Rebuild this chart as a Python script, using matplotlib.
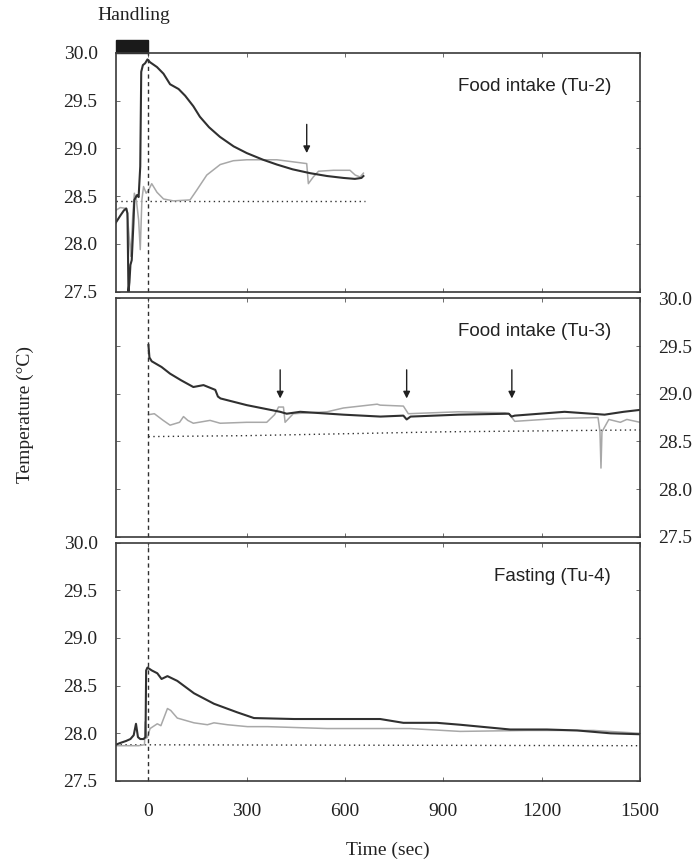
import numpy as np
import matplotlib.pyplot as plt
from matplotlib.patches import Rectangle
from matplotlib.ticker import FormatStrFormatter

# --- Tu-2, food intake ---
tu2_t_dark = [-100, -85, -75, -68, -64, -61, -58, -55, -51, -46, -43, -35, -30, -25, -22, -17, -10, -3, 5, 26, 46, 66,
              92, 112, 137, 157, 185, 218, 260, 300, 350, 392, 440, 493, 545, 595, 630, 650, 656]
tu2_v_dark = [28.22, 28.30, 28.35, 28.37, 28.32, 27.50, 27.60, 27.78, 27.83, 28.20, 28.46, 28.51, 28.49, 28.81, 29.80,
              29.87, 29.89, 29.93, 29.90, 29.85, 29.78, 29.67, 29.62, 29.55, 29.44, 29.33, 29.22, 29.12, 29.02, 28.95,
              28.88, 28.83, 28.78, 28.74, 28.71, 28.69, 28.68, 28.69, 28.71]
tu2_t_gray = [-100, -86, -66, -58, -54, -48, -43, -37, -30, -25, -20, -15, -7, 0, 10, 26, 46, 76, 127, 147, 178, 219,
              259, 300, 392, 483, 488, 503, 519, 565, 615, 631, 646, 656]
tu2_v_gray = [28.35, 28.38, 28.37, 28.04, 27.87, 28.29, 28.53, 28.46, 28.25, 27.94, 28.46, 28.60, 28.53, 28.56, 28.63,
              28.54, 28.47, 28.45, 28.46, 28.56, 28.72, 28.83, 28.87, 28.88, 28.88, 28.84, 28.63, 28.70, 28.76, 28.77,
              28.77, 28.72, 28.70, 28.74]
tu2_t_base = [-100, 660]
tu2_v_base = [28.45, 28.45]
tu2_arrows = [483]

# --- Tu-3, food intake ---
tu3_t_dark = [0, 3, 10, 40, 66, 100, 137, 168, 204, 212, 220, 300, 402, 422, 463, 595, 708, 778, 788, 800, 946, 1100,
              1108, 1118, 1270, 1392, 1450, 1500]
tu3_v_dark = [29.51, 29.38, 29.34, 29.28, 29.21, 29.14, 29.07, 29.09, 29.04, 28.97, 28.95, 28.88, 28.81, 28.79, 28.81,
              28.78, 28.76, 28.77, 28.73, 28.76, 28.78, 28.79, 28.76, 28.77, 28.81, 28.78, 28.81, 28.83]
tu3_t_gray = [0, 18, 45, 66, 95, 107, 120, 137, 188, 219, 300, 361, 385, 397, 412, 417, 442, 545, 595, 698, 707, 778,
              793, 946, 1088, 1100, 1118, 1250, 1372, 1378, 1381, 1384, 1405, 1440, 1460, 1500]
tu3_v_gray = [28.78, 28.79, 28.72, 28.67, 28.70, 28.76, 28.72, 28.69, 28.72, 28.69, 28.70, 28.70, 28.78, 28.86, 28.86,
              28.70, 28.79, 28.81, 28.85, 28.89, 28.88, 28.87, 28.79, 28.81, 28.80, 28.79, 28.71, 28.74, 28.75, 28.60,
              28.22, 28.60, 28.73, 28.70, 28.73, 28.70]
tu3_t_base = [0, 300, 600, 900, 1200, 1500]
tu3_v_base = [28.55, 28.56, 28.58, 28.60, 28.61, 28.62]
tu3_arrows = [402, 788, 1109]

# --- Tu-4, fasting ---
tu4_t_dark = [-100, -85, -68, -55, -45, -38, -32, -25, -15, -9, -7, -3, 10, 27, 40, 58, 88, 139, 200, 271, 322, 444,
              646, 707, 778, 880, 951, 1104, 1216, 1308, 1410, 1500]
tu4_v_dark = [27.88, 27.90, 27.92, 27.94, 27.98, 28.10, 27.96, 27.94, 27.94, 27.96, 28.66, 28.69, 28.66, 28.63, 28.57,
              28.60, 28.55, 28.42, 28.31, 28.22, 28.16, 28.15, 28.15, 28.15, 28.11, 28.11, 28.09, 28.04, 28.04, 28.03,
              28.00, 27.99]
tu4_t_gray = [-100, -30, -12, -10, -6, -3, 5, 27, 38, 58, 68, 88, 139, 180, 200, 241, 302, 363, 546, 798, 951, 1155,
              1359, 1500]
tu4_v_gray = [27.87, 27.87, 27.88, 28.12, 27.95, 27.96, 28.05, 28.10, 28.08, 28.26, 28.24, 28.16, 28.11, 28.09, 28.11,
              28.09, 28.07, 28.07, 28.05, 28.05, 28.02, 28.03, 28.03, 28.00]
tu4_t_base = [-100, 1500]
tu4_v_base = [27.88, 27.87]
tu4_arrows = []

titles = ["Food intake (Tu-2)", "Food intake (Tu-3)", "Fasting (Tu-4)"]
x_ticks = [0, 300, 600, 900, 1200, 1500]
y_ticks = [27.5, 28.0, 28.5, 29.0, 29.5, 30.0]

plt.rcParams["font.family"] = ["Liberation Serif", "DejaVu Serif"]
sans = "Liberation Sans"
dark = "#303030"
gray = "#a8a8a8"

fig = plt.figure(figsize=(6.96, 8.64), dpi=100)

rects = [[0.1662, 0.6624, 0.7533, 0.2766],
         [0.1662, 0.3788, 0.7533, 0.2759],
         [0.1662, 0.0961, 0.7533, 0.2758]]

panels = [
    (tu2_t_dark, tu2_v_dark, tu2_t_gray, tu2_v_gray, tu2_t_base, tu2_v_base, tu2_arrows),
    (tu3_t_dark, tu3_v_dark, tu3_t_gray, tu3_v_gray, tu3_t_base, tu3_v_base, tu3_arrows),
    (tu4_t_dark, tu4_v_dark, tu4_t_gray, tu4_v_gray, tu4_t_base, tu4_v_base, tu4_arrows),
]

for i, (rect, p) in enumerate(zip(rects, panels)):
    td, vd, tg, vg, tb, vb, arrows = p
    ax = fig.add_axes(rect)
    ax.plot(tb, vb, color=dark, lw=1.0, ls=(0, (1, 2.5)))
    ax.plot(tg, vg, color=gray, lw=1.1)
    ax.plot(td, vd, color=dark, lw=1.5)
    ax.axvline(0, color=dark, lw=1.0, ls=(0, (3, 2.5)))
    for t in arrows:
        ax.annotate("", xy=(t, 28.95), xytext=(t, 29.25),
                    arrowprops=dict(arrowstyle="-|>", color="#202020", lw=1.0, mutation_scale=10,
                                    shrinkA=0, shrinkB=0))
    ax.text(0.945, 0.86, titles[i], transform=ax.transAxes, ha="right", va="center",
            fontsize=13.5, family=sans, color="#222222")

    ax.set_xlim(-100, 1500)
    ax.set_ylim(27.5, 30.0)
    ax.set_xticks(x_ticks)
    ax.set_yticks(y_ticks)
    ax.yaxis.set_major_formatter(FormatStrFormatter("%.1f"))
    ax.tick_params(direction="in", top=True, right=True, length=3, width=0.6, colors="#555555",
                   labelcolor="#222222", labelsize=14)
    ax.tick_params(axis="y", pad=13)
    ax.tick_params(axis="x", pad=16)
    for s in ax.spines.values():
        s.set_color("#3a3a3a")
        s.set_linewidth(1.2)

    if i < 2:
        ax.tick_params(labelbottom=False)
    if i == 1:
        ax.tick_params(labelleft=False, labelright=True)
    if i == 0:
        # handling bar above the top panel
        ax.add_patch(Rectangle((-100, 30.0), 100, 0.135, facecolor="#1a1a1a", edgecolor="#1a1a1a",
                               clip_on=False))
        ax.text(-0.034, 1.155, "Handling", transform=ax.transAxes, ha="left", va="center",
                fontsize=14, color="#222222")

fig.text(0.036, 0.52, "Temperature (\u00b0C)", rotation=90, ha="center", va="center",
         fontsize=14, color="#222222")
fig.text(0.557, 0.016, "Time (sec)", ha="center", va="center", fontsize=14, color="#222222")

plt.savefig("out.png", dpi=100)
